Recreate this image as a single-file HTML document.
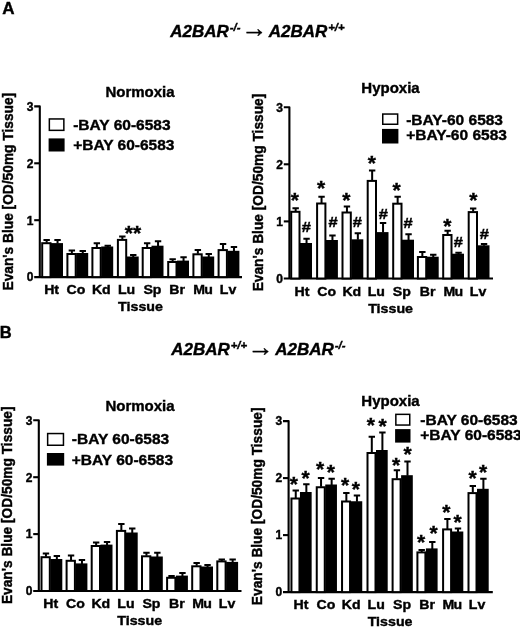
<!DOCTYPE html>
<html lang="en">
<head>
<meta charset="utf-8">
<title>Figure</title>
<style>
html,body{margin:0;padding:0;background:#fff;}
body{width:520px;height:627px;overflow:hidden;}
svg{display:block;}
svg text{font-family:"Liberation Sans", Arial, sans-serif;font-weight:bold;fill:#000;stroke:#000;stroke-width:0.4px;}
</style>
</head>
<body>
<svg width="520" height="627" viewBox="0 0 520 627">
<rect width="520" height="627" fill="#fff"/>
<path d="M34.2 106.4H39.8V277.1M34.2 277.1H242" stroke="#000" stroke-width="2.1" stroke-linejoin="round" fill="none"/>
<path d="M34.2 220.2H39.8" stroke="#000" stroke-width="2.1"/>
<path d="M34.2 163.3H39.8" stroke="#000" stroke-width="2.1"/>
<text x="33.4" y="281.4" font-size="12" text-anchor="end">0</text>
<text x="33.4" y="224.5" font-size="12" text-anchor="end">1</text>
<text x="33.4" y="167.6" font-size="12" text-anchor="end">2</text>
<text x="33.4" y="110.7" font-size="12" text-anchor="end">3</text>
<rect x="42.2" y="243.2" width="8.3" height="33.9" fill="#fff" stroke="#000" stroke-width="2.0"/>
<rect x="51" y="243.1" width="12" height="34" fill="#000"/>
<path d="M46.65 242.7V240.1M43.45 240.1H49.85" stroke="#000" stroke-width="2.0" fill="none"/>
<path d="M57.55 243.6V240.1M54.35 240.1H60.75" stroke="#000" stroke-width="2.0" fill="none"/>
<rect x="67.4" y="254" width="8.3" height="23.1" fill="#fff" stroke="#000" stroke-width="2.0"/>
<rect x="76.2" y="253" width="12" height="24.1" fill="#000"/>
<path d="M71.85 253.5V250.6M68.65 250.6H75.05" stroke="#000" stroke-width="2.0" fill="none"/>
<path d="M82.75 253.5V250.9M79.55 250.9H85.95" stroke="#000" stroke-width="2.0" fill="none"/>
<rect x="92.4" y="248" width="8.3" height="29.1" fill="#fff" stroke="#000" stroke-width="2.0"/>
<rect x="101.2" y="246.5" width="12" height="30.6" fill="#000"/>
<path d="M96.85 247.5V243.3M93.65 243.3H100.05" stroke="#000" stroke-width="2.0" fill="none"/>
<path d="M107.75 247V245.8M104.55 245.8H110.95" stroke="#000" stroke-width="2.0" fill="none"/>
<rect x="117.9" y="239.9" width="8.3" height="37.2" fill="#fff" stroke="#000" stroke-width="2.0"/>
<rect x="126.7" y="256.5" width="12" height="20.6" fill="#000"/>
<path d="M122.35 239.4V236.5M119.15 236.5H125.55" stroke="#000" stroke-width="2.0" fill="none"/>
<path d="M133.25 257V255M130.05 255H136.45" stroke="#000" stroke-width="2.0" fill="none"/>
<rect x="142.7" y="248" width="8.3" height="29.1" fill="#fff" stroke="#000" stroke-width="2.0"/>
<rect x="151.5" y="245.7" width="12" height="31.4" fill="#000"/>
<path d="M147.15 247.5V243.3M143.95 243.3H150.35" stroke="#000" stroke-width="2.0" fill="none"/>
<path d="M158.05 246.2V241.3M154.85 241.3H161.25" stroke="#000" stroke-width="2.0" fill="none"/>
<rect x="168.2" y="262" width="8.3" height="15.1" fill="#fff" stroke="#000" stroke-width="2.0"/>
<rect x="177" y="260.6" width="12" height="16.5" fill="#000"/>
<path d="M172.65 261.5V259.3M169.45 259.3H175.85" stroke="#000" stroke-width="2.0" fill="none"/>
<path d="M183.55 261.1V257.3M180.35 257.3H186.75" stroke="#000" stroke-width="2.0" fill="none"/>
<rect x="193.4" y="254.3" width="8.3" height="22.8" fill="#fff" stroke="#000" stroke-width="2.0"/>
<rect x="202.2" y="256.5" width="12" height="20.6" fill="#000"/>
<path d="M197.85 253.8V249.9M194.65 249.9H201.05" stroke="#000" stroke-width="2.0" fill="none"/>
<path d="M208.75 257V254.1M205.55 254.1H211.95" stroke="#000" stroke-width="2.0" fill="none"/>
<rect x="218.6" y="250.1" width="8.3" height="27" fill="#fff" stroke="#000" stroke-width="2.0"/>
<rect x="227.4" y="250.8" width="12" height="26.3" fill="#000"/>
<path d="M223.05 249.6V243.9M219.85 243.9H226.25" stroke="#000" stroke-width="2.0" fill="none"/>
<path d="M233.95 251.3V247.1M230.75 247.1H237.15" stroke="#000" stroke-width="2.0" fill="none"/>
<text transform="translate(51.6 294) scale(1.07 1)" font-size="13.2" text-anchor="middle">Ht</text>
<text transform="translate(76 294) scale(1.07 1)" font-size="13.2" text-anchor="middle">Co</text>
<text transform="translate(101.3 294) scale(1.07 1)" font-size="13.2" text-anchor="middle">Kd</text>
<text transform="translate(126.6 294) scale(1.07 1)" font-size="13.2" text-anchor="middle">Lu</text>
<text transform="translate(152.4 294) scale(1.07 1)" font-size="13.2" text-anchor="middle">Sp</text>
<text transform="translate(177.2 294) scale(1.07 1)" font-size="13.2" text-anchor="middle">Br</text>
<text transform="translate(202.8 294) scale(1.07 1)" font-size="13.2" text-anchor="middle" letter-spacing="-0.7">Mu</text>
<text transform="translate(228 294) scale(1.07 1)" font-size="13.2" text-anchor="middle">Lv</text>
<text transform="translate(140.5 311.2) scale(1.07 1)" font-size="13.3" text-anchor="middle">Tissue</text>
<text x="140" y="96.9" font-size="15" text-anchor="middle">Normoxia</text>
<text transform="translate(13 191.7) scale(1.1 1) rotate(-90)" font-size="13.75" text-anchor="middle">Evan's Blue [OD/50mg Tissue]</text>
<text x="128.8" y="240.1" font-size="21" text-anchor="middle">*</text>
<text x="137.2" y="240.1" font-size="21" text-anchor="middle">*</text>
<rect x="49.35" y="118.95" width="14.5" height="11.4" fill="#fff" stroke="#000" stroke-width="1.5"/>
<rect x="48.6" y="138.4" width="16" height="13.1" fill="#000"/>
<text x="73.2" y="130.3" font-size="15.5">-BAY 60-6583</text>
<text x="73.2" y="149.7" font-size="15.5">+BAY 60-6583</text>
<path d="M283.8 107.2H289.4V278.5M283.8 278.5H493" stroke="#000" stroke-width="2.1" stroke-linejoin="round" fill="none"/>
<path d="M283.8 221.4H289.4" stroke="#000" stroke-width="2.1"/>
<path d="M283.8 164.3H289.4" stroke="#000" stroke-width="2.1"/>
<text x="283" y="282.8" font-size="12" text-anchor="end">0</text>
<text x="283" y="225.7" font-size="12" text-anchor="end">1</text>
<text x="283" y="168.6" font-size="12" text-anchor="end">2</text>
<text x="283" y="111.5" font-size="12" text-anchor="end">3</text>
<rect x="291.2" y="211.8" width="8.3" height="66.7" fill="#fff" stroke="#000" stroke-width="2.0"/>
<rect x="300" y="243" width="12" height="35.5" fill="#000"/>
<path d="M295.65 211.3V208.3M292.45 208.3H298.85" stroke="#000" stroke-width="2.0" fill="none"/>
<path d="M306.55 243.5V238.7M303.35 238.7H309.75" stroke="#000" stroke-width="2.0" fill="none"/>
<rect x="317.1" y="203.5" width="8.3" height="75" fill="#fff" stroke="#000" stroke-width="2.0"/>
<rect x="325.9" y="240" width="12" height="38.5" fill="#000"/>
<path d="M321.55 203V196.8M318.35 196.8H324.75" stroke="#000" stroke-width="2.0" fill="none"/>
<path d="M332.45 240.5V235.4M329.25 235.4H335.65" stroke="#000" stroke-width="2.0" fill="none"/>
<rect x="342.5" y="212.5" width="8.3" height="66" fill="#fff" stroke="#000" stroke-width="2.0"/>
<rect x="351.3" y="239.3" width="12" height="39.2" fill="#000"/>
<path d="M346.95 212V206.6M343.75 206.6H350.15" stroke="#000" stroke-width="2.0" fill="none"/>
<path d="M357.85 239.8V233.3M354.65 233.3H361.05" stroke="#000" stroke-width="2.0" fill="none"/>
<rect x="367.7" y="180.9" width="8.3" height="97.6" fill="#fff" stroke="#000" stroke-width="2.0"/>
<rect x="376.5" y="232.1" width="12" height="46.4" fill="#000"/>
<path d="M372.15 180.4V170.4M368.95 170.4H375.35" stroke="#000" stroke-width="2.0" fill="none"/>
<path d="M383.05 232.6V223M379.85 223H386.25" stroke="#000" stroke-width="2.0" fill="none"/>
<rect x="393.2" y="203.7" width="8.3" height="74.8" fill="#fff" stroke="#000" stroke-width="2.0"/>
<rect x="402" y="239.7" width="12" height="38.8" fill="#000"/>
<path d="M397.65 203.2V196.7M394.45 196.7H400.85" stroke="#000" stroke-width="2.0" fill="none"/>
<path d="M408.55 240.2V234.3M405.35 234.3H411.75" stroke="#000" stroke-width="2.0" fill="none"/>
<rect x="417.9" y="257" width="8.3" height="21.5" fill="#fff" stroke="#000" stroke-width="2.0"/>
<rect x="426.7" y="256.7" width="12" height="21.8" fill="#000"/>
<path d="M422.35 256.5V252.1M419.15 252.1H425.55" stroke="#000" stroke-width="2.0" fill="none"/>
<path d="M433.25 257.2V254.7M430.05 254.7H436.45" stroke="#000" stroke-width="2.0" fill="none"/>
<rect x="443.2" y="235" width="8.3" height="43.5" fill="#fff" stroke="#000" stroke-width="2.0"/>
<rect x="452" y="253.7" width="12" height="24.8" fill="#000"/>
<path d="M447.65 234.5V230.8M444.45 230.8H450.85" stroke="#000" stroke-width="2.0" fill="none"/>
<path d="M458.55 254.2V252.7M455.35 252.7H461.75" stroke="#000" stroke-width="2.0" fill="none"/>
<rect x="468.7" y="212.1" width="8.3" height="66.4" fill="#fff" stroke="#000" stroke-width="2.0"/>
<rect x="477.5" y="245.3" width="12" height="33.2" fill="#000"/>
<path d="M473.15 211.6V208.4M469.95 208.4H476.35" stroke="#000" stroke-width="2.0" fill="none"/>
<path d="M484.05 245.8V244.1M480.85 244.1H487.25" stroke="#000" stroke-width="2.0" fill="none"/>
<text transform="translate(301.9 296) scale(1.07 1)" font-size="13.2" text-anchor="middle">Ht</text>
<text transform="translate(326.7 296) scale(1.07 1)" font-size="13.2" text-anchor="middle">Co</text>
<text transform="translate(351.8 296) scale(1.07 1)" font-size="13.2" text-anchor="middle">Kd</text>
<text transform="translate(376.3 296) scale(1.07 1)" font-size="13.2" text-anchor="middle">Lu</text>
<text transform="translate(401.8 296) scale(1.07 1)" font-size="13.2" text-anchor="middle">Sp</text>
<text transform="translate(427.6 296) scale(1.07 1)" font-size="13.2" text-anchor="middle">Br</text>
<text transform="translate(453 296) scale(1.07 1)" font-size="13.2" text-anchor="middle" letter-spacing="-0.7">Mu</text>
<text transform="translate(478 296) scale(1.07 1)" font-size="13.2" text-anchor="middle">Lv</text>
<text transform="translate(390.6 312.8) scale(1.07 1)" font-size="13.3" text-anchor="middle">Tissue</text>
<text x="390.5" y="93" font-size="15" text-anchor="middle">Hypoxia</text>
<text transform="translate(262.9 192.55) scale(1.1 1) rotate(-90)" font-size="13.75" text-anchor="middle">Evan's Blue [OD/50mg Tissue]</text>
<text x="294.8" y="207.1" font-size="21" text-anchor="middle">*</text>
<text transform="translate(306.3 231.94) scale(1.1 1)" font-size="15" font-weight="normal" stroke="#000" stroke-width="0.55" text-anchor="middle">#</text>
<text x="321" y="194.6" font-size="21" text-anchor="middle">*</text>
<text transform="translate(333.1 226.84) scale(1.1 1)" font-size="15" font-weight="normal" stroke="#000" stroke-width="0.55" text-anchor="middle">#</text>
<text x="346.4" y="207.4" font-size="21" text-anchor="middle">*</text>
<text transform="translate(357.4 226.94) scale(1.1 1)" font-size="15" font-weight="normal" stroke="#000" stroke-width="0.55" text-anchor="middle">#</text>
<text x="371.8" y="170.4" font-size="21" text-anchor="middle">*</text>
<text transform="translate(383.4 218.94) scale(1.1 1)" font-size="15" font-weight="normal" stroke="#000" stroke-width="0.55" text-anchor="middle">#</text>
<text x="396.7" y="197.4" font-size="21" text-anchor="middle">*</text>
<text transform="translate(408 227.74) scale(1.1 1)" font-size="15" font-weight="normal" stroke="#000" stroke-width="0.55" text-anchor="middle">#</text>
<text x="447.4" y="233" font-size="21" text-anchor="middle">*</text>
<text transform="translate(458.4 247.24) scale(1.1 1)" font-size="15" font-weight="normal" stroke="#000" stroke-width="0.55" text-anchor="middle">#</text>
<text x="473.3" y="206.5" font-size="21" text-anchor="middle">*</text>
<text transform="translate(484.3 238.84) scale(1.1 1)" font-size="15" font-weight="normal" stroke="#000" stroke-width="0.55" text-anchor="middle">#</text>
<rect x="382.75" y="114.05" width="14.9" height="10.2" fill="#fff" stroke="#000" stroke-width="1.5"/>
<rect x="382" y="128.9" width="16.4" height="14.6" fill="#000"/>
<text x="406.2" y="124.5" font-size="15.5">-BAY-60 6583</text>
<text x="406.2" y="140.2" font-size="15.5">+BAY-60 6583</text>
<path d="M33.2 420.3H38.8V591M33.2 591H241.5" stroke="#000" stroke-width="2.1" stroke-linejoin="round" fill="none"/>
<path d="M33.2 534.1H38.8" stroke="#000" stroke-width="2.1"/>
<path d="M33.2 477.2H38.8" stroke="#000" stroke-width="2.1"/>
<text x="32.4" y="595.3" font-size="12" text-anchor="end">0</text>
<text x="32.4" y="538.4" font-size="12" text-anchor="end">1</text>
<text x="32.4" y="481.5" font-size="12" text-anchor="end">2</text>
<text x="32.4" y="424.6" font-size="12" text-anchor="end">3</text>
<rect x="41.5" y="557.2" width="8.3" height="33.8" fill="#fff" stroke="#000" stroke-width="2.0"/>
<rect x="50.3" y="559" width="12" height="32" fill="#000"/>
<path d="M45.95 556.7V553.5M42.75 553.5H49.15" stroke="#000" stroke-width="2.0" fill="none"/>
<path d="M56.85 559.5V556M53.65 556H60.05" stroke="#000" stroke-width="2.0" fill="none"/>
<rect x="66.6" y="560.8" width="8.3" height="30.2" fill="#fff" stroke="#000" stroke-width="2.0"/>
<rect x="75.4" y="563.4" width="12" height="27.6" fill="#000"/>
<path d="M71.05 560.3V555.5M67.85 555.5H74.25" stroke="#000" stroke-width="2.0" fill="none"/>
<path d="M81.95 563.9V560M78.75 560H85.15" stroke="#000" stroke-width="2.0" fill="none"/>
<rect x="91.7" y="546" width="8.3" height="45" fill="#fff" stroke="#000" stroke-width="2.0"/>
<rect x="100.5" y="544.6" width="12" height="46.4" fill="#000"/>
<path d="M96.15 545.5V542.4M92.95 542.4H99.35" stroke="#000" stroke-width="2.0" fill="none"/>
<path d="M107.05 545.1V542M103.85 542H110.25" stroke="#000" stroke-width="2.0" fill="none"/>
<rect x="116.9" y="530.9" width="8.3" height="60.1" fill="#fff" stroke="#000" stroke-width="2.0"/>
<rect x="125.7" y="532.5" width="12" height="58.5" fill="#000"/>
<path d="M121.35 530.4V523.9M118.15 523.9H124.55" stroke="#000" stroke-width="2.0" fill="none"/>
<path d="M132.25 533V528.6M129.05 528.6H135.45" stroke="#000" stroke-width="2.0" fill="none"/>
<rect x="142" y="556.3" width="8.3" height="34.7" fill="#fff" stroke="#000" stroke-width="2.0"/>
<rect x="150.8" y="556.5" width="12" height="34.5" fill="#000"/>
<path d="M146.45 555.8V552.7M143.25 552.7H149.65" stroke="#000" stroke-width="2.0" fill="none"/>
<path d="M157.35 557V552.7M154.15 552.7H160.55" stroke="#000" stroke-width="2.0" fill="none"/>
<rect x="167.1" y="577.8" width="8.3" height="13.2" fill="#fff" stroke="#000" stroke-width="2.0"/>
<rect x="175.9" y="575.6" width="12" height="15.4" fill="#000"/>
<path d="M171.55 577.3V576M168.35 576H174.75" stroke="#000" stroke-width="2.0" fill="none"/>
<path d="M182.45 576.1V573M179.25 573H185.65" stroke="#000" stroke-width="2.0" fill="none"/>
<rect x="192.2" y="566.3" width="8.3" height="24.7" fill="#fff" stroke="#000" stroke-width="2.0"/>
<rect x="201" y="566.5" width="12" height="24.5" fill="#000"/>
<path d="M196.65 565.8V562.9M193.45 562.9H199.85" stroke="#000" stroke-width="2.0" fill="none"/>
<path d="M207.55 567V565M204.35 565H210.75" stroke="#000" stroke-width="2.0" fill="none"/>
<rect x="217.3" y="561.4" width="8.3" height="29.6" fill="#fff" stroke="#000" stroke-width="2.0"/>
<rect x="226.1" y="561.9" width="12" height="29.1" fill="#000"/>
<path d="M221.75 560.9V559.4M218.55 559.4H224.95" stroke="#000" stroke-width="2.0" fill="none"/>
<path d="M232.65 562.4V559.4M229.45 559.4H235.85" stroke="#000" stroke-width="2.0" fill="none"/>
<text transform="translate(50.7 607.8) scale(1.07 1)" font-size="13.2" text-anchor="middle">Ht</text>
<text transform="translate(75.4 607.8) scale(1.07 1)" font-size="13.2" text-anchor="middle">Co</text>
<text transform="translate(100.8 607.8) scale(1.07 1)" font-size="13.2" text-anchor="middle">Kd</text>
<text transform="translate(125.9 607.8) scale(1.07 1)" font-size="13.2" text-anchor="middle">Lu</text>
<text transform="translate(151.4 607.8) scale(1.07 1)" font-size="13.2" text-anchor="middle">Sp</text>
<text transform="translate(176.8 607.8) scale(1.07 1)" font-size="13.2" text-anchor="middle">Br</text>
<text transform="translate(201.8 607.8) scale(1.07 1)" font-size="13.2" text-anchor="middle" letter-spacing="-0.7">Mu</text>
<text transform="translate(227 607.8) scale(1.07 1)" font-size="13.2" text-anchor="middle">Lv</text>
<text transform="translate(139.7 625.2) scale(1.07 1)" font-size="13.3" text-anchor="middle">Tissue</text>
<text x="140" y="410.8" font-size="15" text-anchor="middle">Normoxia</text>
<text transform="translate(12.2 505.3) scale(1.1 1) rotate(-90)" font-size="13.75" text-anchor="middle">Evan's Blue [OD/50mg Tissue]</text>
<rect x="47.65" y="433.55" width="15.8" height="11.7" fill="#fff" stroke="#000" stroke-width="1.5"/>
<rect x="46.9" y="453" width="17.3" height="12.6" fill="#000"/>
<text x="71.8" y="444" font-size="15.5">-BAY 60-6583</text>
<text x="71.8" y="464.7" font-size="15.5">+BAY 60-6583</text>
<path d="M283 421.1H288.6V592.1M283 592.1H492.8" stroke="#000" stroke-width="2.1" stroke-linejoin="round" fill="none"/>
<path d="M283 535.1H288.6" stroke="#000" stroke-width="2.1"/>
<path d="M283 478.1H288.6" stroke="#000" stroke-width="2.1"/>
<text x="282.2" y="596.4" font-size="12" text-anchor="end">0</text>
<text x="282.2" y="539.4" font-size="12" text-anchor="end">1</text>
<text x="282.2" y="482.4" font-size="12" text-anchor="end">2</text>
<text x="282.2" y="425.4" font-size="12" text-anchor="end">3</text>
<rect x="291.45" y="498.5" width="8" height="93.6" fill="#fff" stroke="#000" stroke-width="2.0"/>
<rect x="299.95" y="492" width="11.7" height="100.1" fill="#000"/>
<path d="M295.75 498V490.5M292.55 490.5H298.95" stroke="#000" stroke-width="2.0" fill="none"/>
<path d="M306.35 492.5V484.25M303.15 484.25H309.55" stroke="#000" stroke-width="2.0" fill="none"/>
<rect x="316.75" y="487.25" width="8" height="104.85" fill="#fff" stroke="#000" stroke-width="2.0"/>
<rect x="325.25" y="484.5" width="11.7" height="107.6" fill="#000"/>
<path d="M321.05 486.75V478M317.85 478H324.25" stroke="#000" stroke-width="2.0" fill="none"/>
<path d="M331.65 485V478.75M328.45 478.75H334.85" stroke="#000" stroke-width="2.0" fill="none"/>
<rect x="342.05" y="501.5" width="8" height="90.6" fill="#fff" stroke="#000" stroke-width="2.0"/>
<rect x="350.55" y="501.25" width="11.7" height="90.85" fill="#000"/>
<path d="M346.35 501V493M343.15 493H349.55" stroke="#000" stroke-width="2.0" fill="none"/>
<path d="M356.95 501.75V495.5M353.75 495.5H360.15" stroke="#000" stroke-width="2.0" fill="none"/>
<rect x="367.5" y="453" width="8" height="139.1" fill="#fff" stroke="#000" stroke-width="2.0"/>
<rect x="376" y="450" width="11.7" height="142.1" fill="#000"/>
<path d="M371.8 452.5V436.75M368.6 436.75H375" stroke="#000" stroke-width="2.0" fill="none"/>
<path d="M382.4 450.5V432.5M379.2 432.5H385.6" stroke="#000" stroke-width="2.0" fill="none"/>
<rect x="392.6" y="479.2" width="8" height="112.9" fill="#fff" stroke="#000" stroke-width="2.0"/>
<rect x="401.1" y="475.2" width="11.7" height="116.9" fill="#000"/>
<path d="M396.9 478.7V470.3M393.7 470.3H400.1" stroke="#000" stroke-width="2.0" fill="none"/>
<path d="M407.5 475.7V461.5M404.3 461.5H410.7" stroke="#000" stroke-width="2.0" fill="none"/>
<rect x="417.4" y="552.4" width="8" height="39.7" fill="#fff" stroke="#000" stroke-width="2.0"/>
<rect x="425.9" y="548.4" width="11.7" height="43.7" fill="#000"/>
<path d="M421.7 551.9V550M418.5 550H424.9" stroke="#000" stroke-width="2.0" fill="none"/>
<path d="M432.3 548.9V542.1M429.1 542.1H435.5" stroke="#000" stroke-width="2.0" fill="none"/>
<rect x="443.1" y="529.4" width="8" height="62.7" fill="#fff" stroke="#000" stroke-width="2.0"/>
<rect x="451.6" y="531.5" width="11.7" height="60.6" fill="#000"/>
<path d="M447.4 528.9V519.1M444.2 519.1H450.6" stroke="#000" stroke-width="2.0" fill="none"/>
<path d="M458 532V528.6M454.8 528.6H461.2" stroke="#000" stroke-width="2.0" fill="none"/>
<rect x="468.5" y="493.1" width="8" height="99" fill="#fff" stroke="#000" stroke-width="2.0"/>
<rect x="477" y="488.8" width="11.7" height="103.3" fill="#000"/>
<path d="M472.8 492.6V486M469.6 486H476" stroke="#000" stroke-width="2.0" fill="none"/>
<path d="M483.4 489.3V478.8M480.2 478.8H486.6" stroke="#000" stroke-width="2.0" fill="none"/>
<text transform="translate(300.9 608.6) scale(1.07 1)" font-size="13.2" text-anchor="middle">Ht</text>
<text transform="translate(325.9 608.6) scale(1.07 1)" font-size="13.2" text-anchor="middle">Co</text>
<text transform="translate(351.2 608.6) scale(1.07 1)" font-size="13.2" text-anchor="middle">Kd</text>
<text transform="translate(376.2 608.6) scale(1.07 1)" font-size="13.2" text-anchor="middle">Lu</text>
<text transform="translate(402 608.6) scale(1.07 1)" font-size="13.2" text-anchor="middle">Sp</text>
<text transform="translate(427.1 608.6) scale(1.07 1)" font-size="13.2" text-anchor="middle">Br</text>
<text transform="translate(452 608.6) scale(1.07 1)" font-size="13.2" text-anchor="middle" letter-spacing="-0.7">Mu</text>
<text transform="translate(477.1 608.6) scale(1.07 1)" font-size="13.2" text-anchor="middle">Lv</text>
<text transform="translate(390.1 625.7) scale(1.07 1)" font-size="13.3" text-anchor="middle">Tissue</text>
<text x="390.5" y="405.8" font-size="15" text-anchor="middle">Hypoxia</text>
<text transform="translate(262 506.35) scale(1.1 1) rotate(-90)" font-size="13.75" text-anchor="middle">Evan's Blue [OD/50mg Tissue]</text>
<text x="293.75" y="490.6" font-size="21" text-anchor="middle">*</text>
<text x="305.5" y="484.85" font-size="21" text-anchor="middle">*</text>
<text x="320" y="475.6" font-size="21" text-anchor="middle">*</text>
<text x="330.75" y="479.1" font-size="21" text-anchor="middle">*</text>
<text x="345" y="492.35" font-size="21" text-anchor="middle">*</text>
<text x="355.75" y="496.1" font-size="21" text-anchor="middle">*</text>
<text x="370.75" y="432.35" font-size="21" text-anchor="middle">*</text>
<text x="382.5" y="433.1" font-size="21" text-anchor="middle">*</text>
<text x="396" y="471.6" font-size="21" text-anchor="middle">*</text>
<text x="407.5" y="461.4" font-size="21" text-anchor="middle">*</text>
<text x="421.2" y="549.2" font-size="21" text-anchor="middle">*</text>
<text x="433.7" y="540" font-size="21" text-anchor="middle">*</text>
<text x="446.3" y="518.8" font-size="21" text-anchor="middle">*</text>
<text x="457.6" y="529.2" font-size="21" text-anchor="middle">*</text>
<text x="472.5" y="484.7" font-size="21" text-anchor="middle">*</text>
<text x="483" y="479.3" font-size="21" text-anchor="middle">*</text>
<rect x="395.85" y="414.35" width="13.9" height="10.7" fill="#fff" stroke="#000" stroke-width="1.5"/>
<rect x="395.1" y="429.1" width="15.4" height="13.5" fill="#000"/>
<text x="420.3" y="424.7" font-size="15.5">-BAY 60-6583</text>
<text x="420.3" y="440.4" font-size="15.5">+BAY 60-6583</text>
<text x="2.2" y="13.8" font-size="17">A</text>
<text x="-0.3" y="337.5" font-size="16.5">B</text>
<text x="170.3" y="36.6" font-size="17" font-style="italic">A2BAR<tspan font-size="11.3" dx="1" dy="-5.7">-/-</tspan></text>
<text x="241.4" y="36.5" font-size="26" font-weight="normal" stroke="none">→</text>
<text x="268.7" y="36.6" font-size="17" font-style="italic">A2BAR<tspan font-size="11.3" dx="1" dy="-5.7">+/+</tspan></text>
<text x="171.2" y="355.1" font-size="17" font-style="italic">A2BAR<tspan font-size="11.3" dx="1" dy="-5.7">+/+</tspan></text>
<text x="247.8" y="355.8" font-size="26" font-weight="normal" stroke="none">→</text>
<text x="275.3" y="355.1" font-size="17" font-style="italic">A2BAR<tspan font-size="11.3" dx="1" dy="-5.7">-/-</tspan></text>
</svg>
</body>
</html>
